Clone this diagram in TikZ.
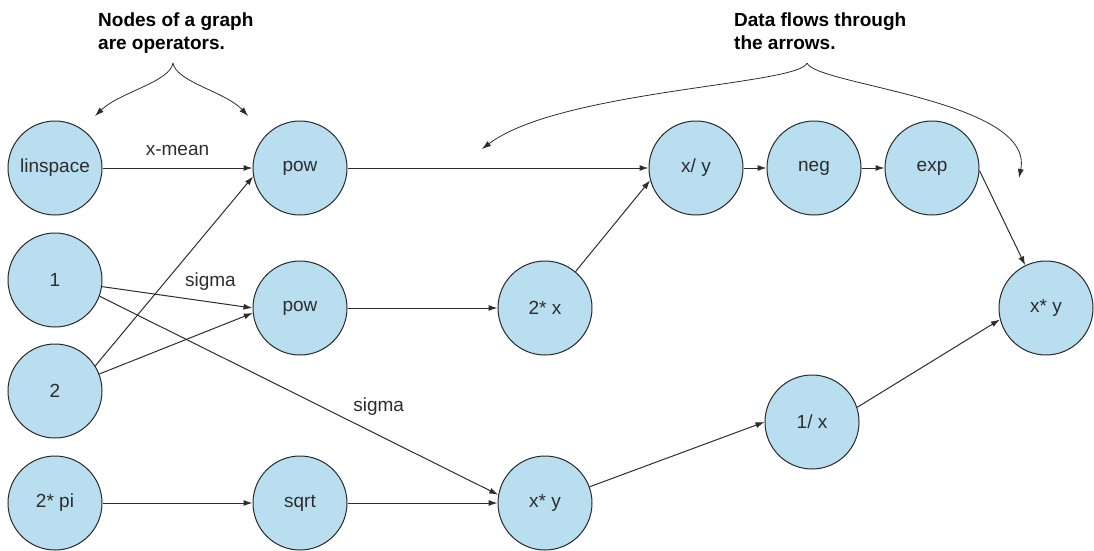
\documentclass[tikz,border=0pt]{standalone}
\usepackage{fontspec}
\setmainfont{Liberation Sans}
\usepackage{xcolor}
\usepackage{tikz}
\usetikzlibrary{arrows.meta, positioning}
\definecolor{opcolor}{RGB}{184, 222, 240}
\definecolor{opborder}{RGB}{40, 40, 40}
\definecolor{inkcolor}{RGB}{45, 45, 45}
\tikzstyle{op} = [circle, minimum size=94pt, inner sep=0pt, draw=opborder, line width=1pt,
                  fill=opcolor, text=inkcolor, font=\fontsize{19}{22}\selectfont]
\tikzstyle{arrow} = [-{Latex[length=9pt, width=6pt]}, line width=1pt, draw=inkcolor]
\tikzstyle{lbl} = [text=inkcolor, font=\fontsize{19}{22}\selectfont]
\tikzstyle{note} = [align=left, inner sep=0pt, anchor=north west, text=black,
                    font=\fontsize{19}{23}\selectfont\bfseries]
\tikzstyle{brace} = [-{Latex[length=9pt, width=6pt]}, line width=0.8pt, draw=inkcolor]

\begin{document}
\begin{tikzpicture}[x=1pt, y=-1pt]
    \useasboundingbox (0,0) rectangle (1094,550);

    % Inputs
    \node[op] (linspace) at (55,168) {linspace};
    \node[op] (one) at (55,280) {1};
    \node[op] (two) at (55,391) {2};
    \node[op] (twopi) at (55,503) {2* pi};

    % Operators
    \node[op] (powA) at (300,168) {pow};
    \node[op] (powB) at (300,308) {pow};
    \node[op] (sqrt) at (300,503) {sqrt};
    \node[op] (twox) at (545,308) {2* x};
    \node[op] (xyB) at (545,503) {x* y};
    \node[op] (xdivy) at (696,168) {x/ y};
    \node[op, right=23pt of xdivy] (neg) {neg};
    \node[op, right=23pt of neg] (exp) {exp};
    \node[op] (recip) at (812,422) {1/ x};
    \node[op] (xyR) at (1046,308) {x* y};

    % Notes
    \node[note] (noteA) at (98,13) {Nodes of a graph\\are operators.};
    \node[note] (noteB) at (734,13) {Data flows through\\the arrows.};
    \coordinate (tipA) at (173,63);
    \coordinate (tipB) at (807,63);
    \coordinate (endA1) at (95,116);
    \coordinate (endA2) at (248,116);
    \coordinate (endB1) at (482,149);
    \coordinate (endB2) at (1019,178);

    \draw[brace] (tipA) .. controls (170,82) and (120,92) .. (endA1);
    \draw[brace] (tipA) .. controls (176,82) and (226,92) .. (endA2);
    \draw[brace] (tipB) .. controls (800,85) and (560,90) .. (endB1);
    \draw[brace] (tipB) .. controls (815,85) and (1035,100) .. (endB2);

    % Data flow
    \draw[arrow] (linspace) -- node[lbl, above=8pt] {x-mean} (powA);
    \draw[arrow] (two.32) -- (powA.190);
    \draw[arrow] (one.-8) -- node[lbl, pos=0.72, above=8pt] {sigma} (powB.180);
    \draw[arrow] (two.21) -- (powB.186);
    \draw[arrow] (one.-20) -- node[lbl, pos=0.7, above=16pt] {sigma} (xyB.170);
    \draw[arrow] (twopi) -- (sqrt);
    \draw[arrow] (sqrt) -- (xyB);
    \draw[arrow] (powA) -- (xdivy);
    \draw[arrow] (powB) -- (twox);
    \draw[arrow] (twox.50) -- (xdivy.195);
    \draw[arrow] (xdivy) -- (neg);
    \draw[arrow] (neg) -- (exp);
    \draw[arrow] (exp.-3) -- (xyR.116);
    \draw[arrow] (xyB.20) -- (recip.180);
    \draw[arrow] (recip.18) -- (xyR.194);
\end{tikzpicture}
\end{document}
